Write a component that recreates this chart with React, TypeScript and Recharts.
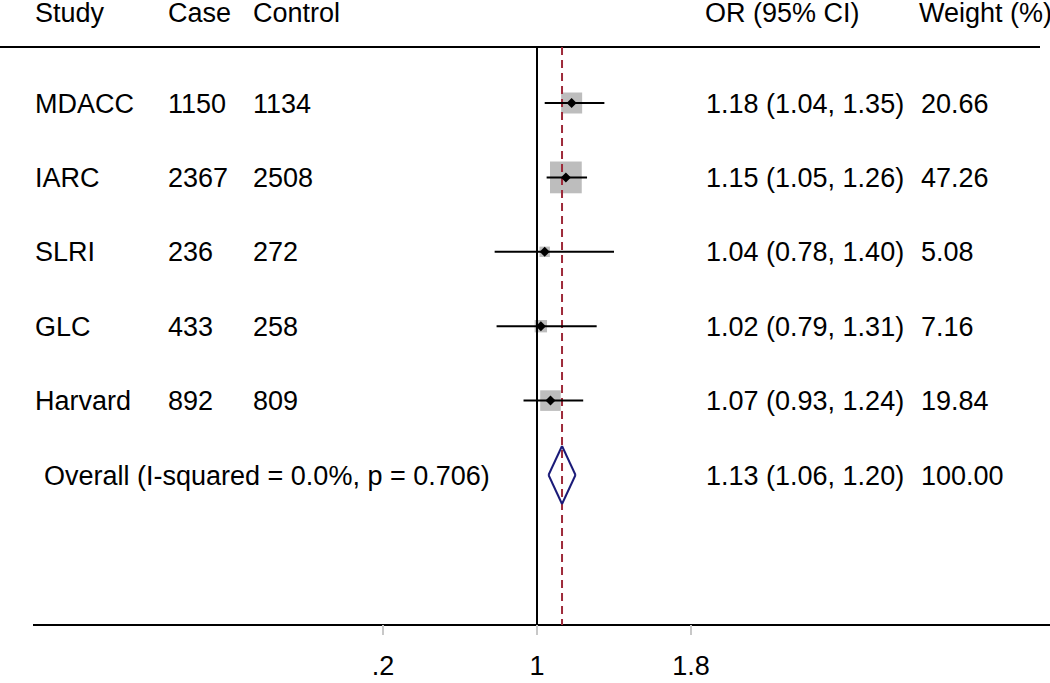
import {
  ComposedChart,
  ReferenceLine,
  Scatter,
  XAxis,
  YAxis,
} from "recharts";

const studies = ["MDACC", "IARC", "SLRI", "GLC", "Harvard"];
const cases = [1150, 2367, 236, 433, 892];
const controls = [1134, 2508, 272, 258, 809];
const oddsRatios = [1.18, 1.15, 1.04, 1.02, 1.07];
const lowerCI = [1.04, 1.05, 0.78, 0.79, 0.93];
const upperCI = [1.35, 1.26, 1.4, 1.31, 1.24];
const weights = [20.66, 47.26, 5.08, 7.16, 19.84];

const overallLabel = "Overall (I-squared = 0.0%, p = 0.706)";
const overallOR = 1.13;
const overallCI = [1.06, 1.2];
const overallWeight = 100.0;

const xTicks = [0.2, 1, 1.8];
const xTickLabels = [".2", "1", "1.8"];

const W = 1050;
const H = 683;
const FONT = "Arial, 'Liberation Sans', Helvetica, sans-serif";
const FS = 27;

// x scale: 1 at 537px, 192.5px per unit, plot spans the full width
const X_MIN = 1 - 537 / 192.5;
const X_MAX = 1 + (W - 537) / 192.5;
// y scale: rows (index) at 103px + 74.4px each, plot bottom at 625px
const ROW_H = 74.4;
const Y_MIN = -103 / ROW_H;
const Y_MAX = (625 - 103) / ROW_H;
const TOP_ROW = (47 - 103) / ROW_H;

const fmt = (v: number) => v.toFixed(2);

const boxData = studies.map((s, i) => ({ x: oddsRatios[i], y: i, w: weights[i] }));
const pointData = studies.map((s, i) => ({ x: oddsRatios[i], y: i }));
const overallRow = studies.length;
const textRows = [
  ...studies.map((s, i) => ({
    x: 1,
    y: i,
    cells: [s, String(cases[i]), String(controls[i])],
    or: `${fmt(oddsRatios[i])} (${fmt(lowerCI[i])}, ${fmt(upperCI[i])})`,
    wt: fmt(weights[i]),
  })),
  {
    x: 1,
    y: overallRow,
    cells: [overallLabel],
    or: `${fmt(overallOR)} (${fmt(overallCI[0])}, ${fmt(overallCI[1])})`,
    wt: fmt(overallWeight),
  },
];

const leftCols = [35, 168, 253];
const overallX = 44;
const orX = 706;
const wtX = 921;

function RowText(props: any) {
  const { cy, payload } = props;
  const base = cy + 9.5;
  const isOverall = payload.cells.length === 1;
  return (
    <g fontFamily={FONT} fontSize={FS} fill="#000">
      {payload.cells.map((c: string, j: number) => (
        <text key={j} x={isOverall ? overallX : leftCols[j]} y={base}>
          {c}
        </text>
      ))}
      <text x={orX} y={base}>{payload.or}</text>
      <text x={wtX} y={base}>{payload.wt}</text>
    </g>
  );
}

function WeightBox(props: any) {
  const { cx, cy, payload } = props;
  const side = 4.62 * Math.sqrt(payload.w);
  return <rect x={cx - side / 2} y={cy - side / 2} width={side} height={side} fill="#bdbdbd" />;
}

function Dot(props: any) {
  const { cx, cy } = props;
  const r = 5;
  return (
    <polygon
      points={`${cx - r},${cy} ${cx},${cy - r} ${cx + r},${cy} ${cx},${cy + r}`}
      fill="#000"
    />
  );
}

const diamondHalf = 29 / ROW_H;
const diamondPts = [
  { x: overallCI[0], y: overallRow },
  { x: overallOR, y: overallRow - diamondHalf },
  { x: overallCI[1], y: overallRow },
  { x: overallOR, y: overallRow + diamondHalf },
];

const headers = [
  { t: "Study", x: 35 },
  { t: "Case", x: 168 },
  { t: "Control", x: 253 },
  { t: "OR (95% CI)", x: 705 },
  { t: "Weight (%)", x: 919 },
];

export default function App() {
  return (
    <div style={{ position: "absolute", left: 0, top: 0, width: W, height: H, background: "#fff" }}>
      <ComposedChart width={W} height={H} margin={{ top: 0, right: 0, bottom: 0, left: 0 }}>
        <XAxis
          type="number"
          dataKey="x"
          domain={[X_MIN, X_MAX]}
          allowDataOverflow
          ticks={xTicks}
          tickFormatter={(v: number) => xTickLabels[xTicks.indexOf(v)] ?? String(v)}
          axisLine={false}
          tickLine={{ stroke: "#c8c8c8", strokeWidth: 2 }}
          tickSize={10}
          tickMargin={21}
          height={H - 625}
          tick={{ fill: "#000", fontSize: FS, fontFamily: FONT }}
        />
        <YAxis type="number" dataKey="y" domain={[Y_MIN, Y_MAX]} reversed hide allowDataOverflow />

        <ReferenceLine
          segment={[{ x: X_MIN, y: TOP_ROW }, { x: 1 + (1040 - 537) / 192.5, y: TOP_ROW }]}
          stroke="#000"
          strokeWidth={2}
        />
        <ReferenceLine
          segment={[{ x: 1 - (537 - 33) / 192.5, y: Y_MAX }, { x: X_MAX, y: Y_MAX }]}
          stroke="#000"
          strokeWidth={2}
        />
        <ReferenceLine segment={[{ x: 1, y: TOP_ROW }, { x: 1, y: Y_MAX }]} stroke="#000" strokeWidth={2} />
        <ReferenceLine
          segment={[{ x: overallOR, y: TOP_ROW }, { x: overallOR, y: Y_MAX }]}
          stroke="#9e2a3a"
          strokeWidth={2}
          strokeDasharray="8 5"
        />
        {diamondPts.map((p, i) => (
          <ReferenceLine
            key={`d${i}`}
            segment={[p, diamondPts[(i + 1) % diamondPts.length]]}
            stroke="#1a1a78"
            strokeWidth={2}
          />
        ))}

        <Scatter data={boxData} shape={<WeightBox />} isAnimationActive={false} zIndex={300} />
        {studies.map((s, i) => (
          <ReferenceLine
            key={`ci${s}`}
            segment={[{ x: lowerCI[i], y: i }, { x: upperCI[i], y: i }]}
            stroke="#000"
            strokeWidth={2}
            zIndex={450}
          />
        ))}
        <Scatter data={pointData} shape={<Dot />} isAnimationActive={false} zIndex={600} />
        <Scatter data={textRows} shape={<RowText />} isAnimationActive={false} zIndex={700} />
      </ComposedChart>
      <svg
        width={W}
        height={40}
        style={{ position: "absolute", left: 0, top: 0, overflow: "visible" }}
      >
        <g fontFamily={FONT} fontSize={FS} fill="#000">
          {headers.map((h) => (
            <text key={h.t} x={h.x} y={22}>
              {h.t}
            </text>
          ))}
        </g>
      </svg>
    </div>
  );
}
